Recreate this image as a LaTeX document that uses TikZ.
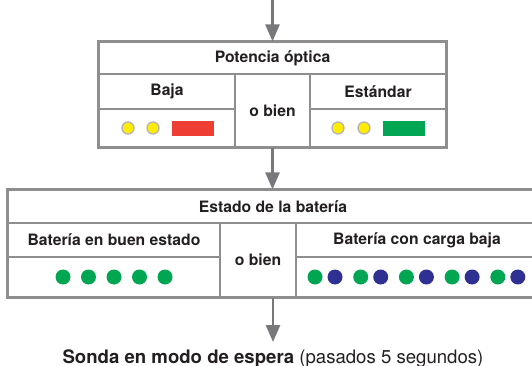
\documentclass[tikz,border=0pt]{standalone}
\usepackage{fontspec}
\setmainfont{TeX Gyre Heros}
\usetikzlibrary{arrows.meta}
\definecolor{linegray}{HTML}{8E8E8F}
\definecolor{arrowgray}{HTML}{77787B}
\definecolor{textdark}{HTML}{231F20}
\definecolor{ledyellow}{HTML}{FFEC00}
\definecolor{ledred}{HTML}{EE3E33}
\definecolor{ledgreen}{HTML}{00A651}
\definecolor{ledblue}{HTML}{2E3192}
\definecolor{ledrim}{HTML}{B4B4B4}

\begin{document}
\begin{tikzpicture}[x=1pt,y=-1pt,
 cell/.style={draw=linegray,line width=1.2pt,inner sep=0pt,text=textdark,font=\fontsize{15.7}{18}\selectfont\bfseries},
 frame/.style={draw=linegray,line width=2.2pt},
 flow/.style={draw=arrowgray,line width=2.6pt,-{Triangle[length=17pt,width=14pt]}},
 yled/.style={fill=ledyellow,draw=ledrim,line width=1.3pt}]
\clip (0,0) rectangle (532,366);

\node[cell,minimum width=347pt,minimum height=32pt] (potTitle) at (272.5,58) {Potencia óptica};
\node[cell,minimum width=136pt,minimum height=35pt] (potLow) at (167,91.5) {Baja};
\node[cell,minimum width=136pt,minimum height=38pt] (potLowLed) at (167,128) {};
\node[cell,minimum width=75pt,minimum height=73pt] (potOr) at (272.5,110.5) {o bien};
\node[cell,minimum width=136pt,minimum height=35pt] (potStd) at (378,91.5) {Estándar};
\node[cell,minimum width=136pt,minimum height=38pt] (potStdLed) at (378,128) {};
\draw[frame] (potTitle.north west) rectangle (potStdLed.south east);

\filldraw[yled] (128,128) circle (6pt) (153,128) circle (6pt);
\fill[ledred] (172,121) rectangle (214,136);
\filldraw[yled] (338,128) circle (6pt) (364,128) circle (6pt);
\fill[ledgreen] (383,121) rectangle (425,136);

\node[cell,minimum width=530pt,minimum height=33pt] (batTitle) at (273,206.5) {Estado de la batería};
\node[cell,minimum width=212pt,minimum height=34pt] (batGood) at (114,240) {Batería en buen estado};
\node[cell,minimum width=212pt,minimum height=40pt] (batGoodLed) at (114,277) {};
\node[cell,minimum width=76pt,minimum height=74pt] (batOr) at (258,260) {o bien};
\node[cell,minimum width=242pt,minimum height=34pt] (batLow) at (417,240) {Batería con carga baja};
\node[cell,minimum width=242pt,minimum height=40pt] (batLowLed) at (417,277) {};
\draw[frame] (batTitle.north west) rectangle (batLowLed.south east);

\foreach \i in {0,...,4}
 \fill[ledgreen] (63+25.5*\i,277) circle (7.5pt);
\foreach \i in {0,...,4} {
 \fill[ledgreen] (315+45.7*\i,277) circle (7.5pt);
 \fill[ledblue] (335+45.7*\i,277) circle (7.5pt);
}

\node[anchor=base,inner sep=0pt,text=textdark,font=\fontsize{18.6}{22}\selectfont] (standby) at (273,363)
 {\textbf{Sonda en modo de espera} (pasados 5 segundos)};

\coordinate (entry) at (272.5,0);
\draw[flow] (entry) -- (potTitle.north);
\draw[flow] (potOr.south) -- (potOr.south |- batTitle.north);
\draw[flow,shorten >=7pt] (standby.north |- batOr.south) -- (standby.north);
\end{tikzpicture}
\end{document}
